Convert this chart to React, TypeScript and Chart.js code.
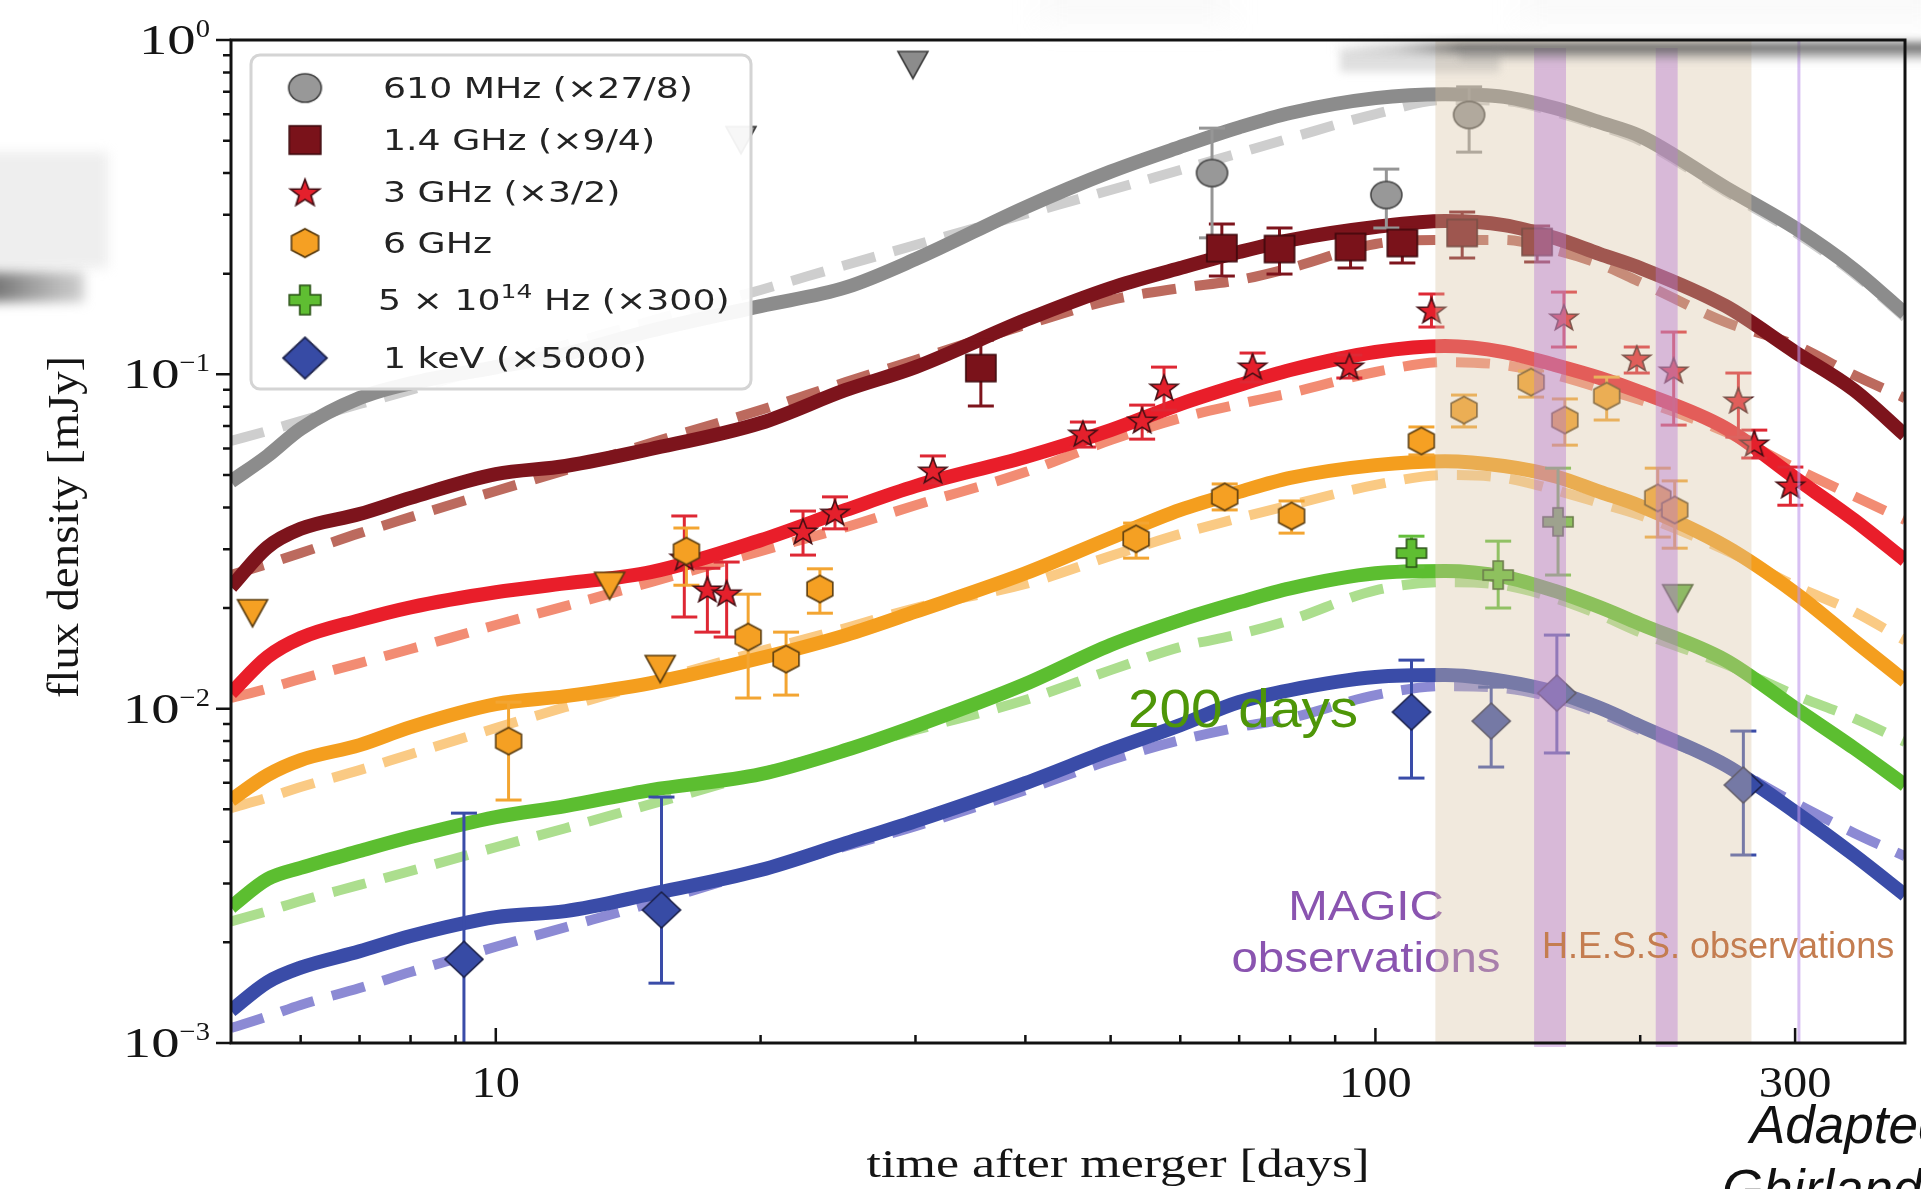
import React, { useEffect, useRef } from 'react';
import { Chart, registerables } from 'chart.js';

Chart.register(...registerables);

const CANVAS_W = 1921;
const CANVAS_H = 1189;

// ---------------------------------------------------------------------------
// Afterglow models on a common time grid (days after merger), flux in mJy,
// each band already multiplied by the factor given in the legend.
// Solid = structured jet, dashed = isotropic cocoon.
// ---------------------------------------------------------------------------
const MODEL_DAYS = [5, 5.5, 6, 7, 8, 10, 12, 15, 20, 25, 30, 40, 50, 60, 70, 80, 100, 120, 140, 160, 180, 200, 250, 300, 350, 400];

const JET_610MHZ = [0.0478, 0.057, 0.0687, 0.0849, 0.094, 0.105, 0.115, 0.135, 0.16, 0.182, 0.221, 0.316, 0.404, 0.479, 0.548, 0.605, 0.67, 0.688, 0.676, 0.626, 0.567, 0.516, 0.362, 0.274, 0.206, 0.152];
const COCOON_610MHZ = [0.0632, 0.0677, 0.0725, 0.0815, 0.0898, 0.1066, 0.1224, 0.1443, 0.1788, 0.2123, 0.2436, 0.3017, 0.3558, 0.4086, 0.4592, 0.509, 0.6006, 0.6614, 0.657, 0.609, 0.553, 0.5, 0.352, 0.266, 0.2, 0.148];

const JET_1P4GHZ = [0.0231, 0.0304, 0.0345, 0.0382, 0.0427, 0.0503, 0.0532, 0.0598, 0.0715, 0.0898, 0.1051, 0.1453, 0.1812, 0.208, 0.2322, 0.2522, 0.2759, 0.2874, 0.2796, 0.2557, 0.229, 0.208, 0.1601, 0.1166, 0.0898, 0.0658];
const COCOON_1P4GHZ = [0.0251, 0.0271, 0.0292, 0.0335, 0.0374, 0.0448, 0.0517, 0.0623, 0.0782, 0.0948, 0.1104, 0.1405, 0.1668, 0.1812, 0.1915, 0.208, 0.2454, 0.2522, 0.2522, 0.2353, 0.2138, 0.1888, 0.1433, 0.1224, 0.0995, 0.0849];

const JET_3GHZ = [0.01113, 0.01427, 0.01627, 0.0184, 0.0201, 0.0223, 0.0237, 0.0256, 0.0319, 0.0393, 0.0463, 0.0566, 0.0681, 0.0815, 0.0929, 0.103, 0.1166, 0.1215, 0.1166, 0.1066, 0.0975, 0.0885, 0.0691, 0.049, 0.0367, 0.0278];
const COCOON_3GHZ = [0.01076, 0.01148, 0.01227, 0.01369, 0.01508, 0.01779, 0.02027, 0.0239, 0.0296, 0.0349, 0.0406, 0.051, 0.0636, 0.074, 0.0815, 0.0879, 0.1016, 0.1088, 0.1066, 0.0995, 0.091, 0.0838, 0.0672, 0.0524, 0.0432, 0.0367];

const JET_6GHZ = [0.00533, 0.00633, 0.00702, 0.00778, 0.00881, 0.01032, 0.0109, 0.01193, 0.01417, 0.0166, 0.0195, 0.0254, 0.0324, 0.0393, 0.0445, 0.049, 0.0535, 0.055, 0.0532, 0.0496, 0.0445, 0.0404, 0.0306, 0.0222, 0.016, 0.01209];
const COCOON_6GHZ = [0.00504, 0.00542, 0.00583, 0.00655, 0.00731, 0.00875, 0.01011, 0.01201, 0.01487, 0.01742, 0.02, 0.0236, 0.0286, 0.0333, 0.0372, 0.0406, 0.0467, 0.05, 0.049, 0.0451, 0.0412, 0.0379, 0.0298, 0.0233, 0.0195, 0.016];

const JET_OPTICAL = [0.00255, 0.00309, 0.00334, 0.00375, 0.00413, 0.00474, 0.00511, 0.00571, 0.00637, 0.00752, 0.00887, 0.01185, 0.0155, 0.0184, 0.0208, 0.0229, 0.0254, 0.0258, 0.0248, 0.0225, 0.0201, 0.0179, 0.01397, 0.01004, 0.00762, 0.00591];
const COCOON_OPTICAL = [0.00231, 0.00248, 0.00266, 0.00297, 0.00327, 0.00385, 0.00439, 0.00518, 0.00642, 0.00752, 0.00863, 0.01061, 0.01304, 0.01529, 0.0167, 0.0184, 0.0226, 0.0239, 0.0234, 0.0214, 0.0191, 0.0169, 0.01359, 0.01098, 0.00937, 0.00795];

const JET_XRAY = [0.00125, 0.00152, 0.00168, 0.00188, 0.00209, 0.00238, 0.00248, 0.00279, 0.00329, 0.00396, 0.00461, 0.00599, 0.00752, 0.00893, 0.01047, 0.01137, 0.01243, 0.0126, 0.01209, 0.01121, 0.01004, 0.00887, 0.00678, 0.00491, 0.00365, 0.00277];
const COCOON_XRAY = [0.001108, 0.0012, 0.0013, 0.00146, 0.00163, 0.00194, 0.00222, 0.00262, 0.00329, 0.00388, 0.00445, 0.00571, 0.00702, 0.00805, 0.00881, 0.00937, 0.01098, 0.01168, 0.01152, 0.01076, 0.0097, 0.00863, 0.00678, 0.00522, 0.00425, 0.00362];

// ---------------------------------------------------------------------------
// Measurements (days, flux, lower / upper end of the error bar) and upper limits
// ---------------------------------------------------------------------------
const OBS_610MHZ_DAYS = [65.2, 102.9, 127.8];
const OBS_610MHZ_FLUX = [0.4, 0.344, 0.597];
const OBS_610MHZ_LO = [0.256, 0.274, 0.462];
const OBS_610MHZ_HI = [0.545, 0.411, 0.724];
const LIM_610MHZ_DAYS = [19.0, 29.8];
const LIM_610MHZ_FLUX = [0.502, 0.842];

const OBS_1P4GHZ_DAYS = [35.6, 66.9, 77.8, 93.7, 107.3, 125.5, 152.7];
const OBS_1P4GHZ_FLUX = [0.1044, 0.2386, 0.237, 0.2403, 0.247, 0.2647, 0.2487];
const OBS_1P4GHZ_LO = [0.0804, 0.1968, 0.1995, 0.208, 0.2153, 0.2228, 0.2168];
const OBS_1P4GHZ_HI = [0.1266, 0.2816, 0.274, 0.2665, 0.274, 0.3058, 0.2778];

const OBS_3GHZ_DAYS = [16.38, 17.4, 18.3, 22.35, 24.3, 31.4, 46.5, 54.3, 57.5, 72.5, 93.4, 115.8, 163.8, 198.2, 218.3, 258.6, 269.6, 296.3];
const OBS_3GHZ_FLUX = [0.0284, 0.0228, 0.0222, 0.034, 0.0387, 0.0517, 0.0667, 0.073, 0.0916, 0.1059, 0.1059, 0.1557, 0.1484, 0.1119, 0.103, 0.0838, 0.0623, 0.0467];
const OBS_3GHZ_LO = [0.0188, 0.01694, 0.01638, 0.0288, 0.0345, 0.0473, 0.0606, 0.064, 0.0782, 0.0948, 0.0975, 0.1385, 0.1207, 0.1009, 0.0705, 0.0649, 0.0562, 0.0406];
const OBS_3GHZ_HI = [0.0377, 0.0263, 0.02745, 0.039, 0.043, 0.057, 0.072, 0.0809, 0.1051, 0.1158, 0.1142, 0.1739, 0.1762, 0.1207, 0.1338, 0.1009, 0.0681, 0.0528];

const OBS_6GHZ_DAYS = [10.34, 16.47, 19.36, 21.38, 23.36, 53.45, 67.4, 80.3, 112.8, 126.1, 150.3, 164.2, 183.2, 209.4, 218.9];
const OBS_6GHZ_FLUX = [0.008, 0.0296, 0.01638, 0.01407, 0.0228, 0.0322, 0.043, 0.0377, 0.0632, 0.0782, 0.0948, 0.073, 0.0861, 0.0427, 0.0393];
const OBS_6GHZ_LO = [0.00533, 0.0234, 0.01076, 0.01098, 0.0193, 0.0282, 0.0393, 0.0335, 0.0574, 0.0696, 0.0855, 0.0614, 0.073, 0.0326, 0.0302];
const OBS_6GHZ_HI = [0.01046, 0.0347, 0.022, 0.01694, 0.0262, 0.0359, 0.047, 0.0418, 0.0696, 0.0867, 0.1023, 0.0844, 0.0981, 0.0524, 0.048];
const LIM_6GHZ_DAYS = [5.29, 13.47, 15.38];
const LIM_6GHZ_FLUX = [0.0193, 0.0233, 0.01314];

const OBS_OPTICAL_DAYS = [109.9, 137.9, 161.3];
const OBS_OPTICAL_FLUX = [0.0292, 0.0251, 0.0362];
const OBS_OPTICAL_LO = [0.0265, 0.02, 0.0251];
const OBS_OPTICAL_HI = [0.0328, 0.0317, 0.0524];
const LIM_OPTICAL_DAYS = [220.6];
const LIM_OPTICAL_FLUX = [0.0214];

const OBS_XRAY_DAYS = [9.2, 15.43, 109.9, 135.4, 160.8, 262];
const OBS_XRAY_FLUX = [0.00178, 0.0025, 0.00977, 0.00918, 0.01113, 0.00591];
const OBS_XRAY_LO = [0.0008, 0.00151, 0.0062, 0.00669, 0.00737, 0.00365];
const OBS_XRAY_HI = [0.00487, 0.00544, 0.01397, 0.0116, 0.0166, 0.00857];

// Very-high-energy observing windows (days)
const HESS_WINDOW = [117, 267.6];
const MAGIC_WINDOW_STARTS = [151.5, 208.3];
const MAGIC_WINDOW_ENDS = [164.7, 220.6];
const MAGIC_LATE_EPOCH = 303;

// Axes
const X_RANGE = [5, 400];
const Y_RANGE = [0.001, 1];
const X_MAJOR_TICKS = [10, 100, 300];
const X_MINOR_TICKS = [6, 7, 8, 9, 20, 30, 40, 50, 60, 70, 80, 90, 200];
const Y_DECADES = [0, -1, -2, -3];

const LEGEND_LABELS = ['610 MHz (×27/8)', '1.4 GHz (×9/4)', '3 GHz (×3/2)', '6 GHz', '5 × 10^{14} Hz (×300)', '1 keV (×5000)'];

// ---------------------------------------------------------------------------
// Styling
// ---------------------------------------------------------------------------
const COLORS = {
  gray: { solid: 'rgb(140,140,140)', dash: 'rgb(206,206,206)', bar: 'rgb(150,150,150)', fill: 'rgb(152,152,152)', edge: 'rgb(70,70,70)' },
  maroon: { solid: 'rgb(125,20,28)', dash: 'rgb(188,106,94)', bar: 'rgb(125,20,28)', fill: 'rgb(122,18,26)', edge: 'rgb(60,8,12)' },
  red: { solid: 'rgb(233,30,42)', dash: 'rgb(242,140,115)', bar: 'rgb(222,40,52)', fill: 'rgb(228,32,44)', edge: 'rgb(70,15,20)' },
  orange: { solid: 'rgb(244,158,30)', dash: 'rgb(250,202,132)', bar: 'rgb(243,165,50)', fill: 'rgb(245,160,35)', edge: 'rgb(90,60,15)' },
  green: { solid: 'rgb(92,190,48)', dash: 'rgb(172,222,142)', bar: 'rgb(100,190,60)', fill: 'rgb(95,190,50)', edge: 'rgb(40,80,20)' },
  blue: { solid: 'rgb(58,76,168)', dash: 'rgb(140,138,212)', bar: 'rgb(58,76,168)', fill: 'rgb(55,75,165)', edge: 'rgb(25,30,70)' },
};

type Path = (ctx: CanvasRenderingContext2D, cx: number, cy: number) => void;

function markerCanvas(w: number, h: number, path: Path, fill: string, edge: string): HTMLCanvasElement {
  const pad = 3;
  const c = document.createElement('canvas');
  c.width = Math.ceil(w + 2 * pad);
  c.height = Math.ceil(h + 2 * pad);
  const ctx = c.getContext('2d') as CanvasRenderingContext2D;
  ctx.beginPath();
  path(ctx, c.width / 2, c.height / 2);
  ctx.closePath();
  ctx.fillStyle = fill;
  ctx.fill();
  ctx.lineWidth = 1.6;
  ctx.lineJoin = 'miter';
  ctx.strokeStyle = edge;
  ctx.stroke();
  return c;
}

const ellipsePath = (rx: number, ry: number): Path => (ctx, cx, cy) => ctx.ellipse(cx, cy, rx, ry, 0, 0, Math.PI * 2);
const rectPath = (hw: number, hh: number): Path => (ctx, cx, cy) => ctx.rect(cx - hw, cy - hh, 2 * hw, 2 * hh);
const starPath = (ro: number, ri: number, sx: number): Path => (ctx, cx, cy) => {
  for (let k = 0; k < 10; k++) {
    const ang = -Math.PI / 2 + (k * Math.PI) / 5;
    const r = k % 2 ? ri : ro;
    const px = cx + r * Math.cos(ang) * sx;
    const py = cy + r * Math.sin(ang) + 1.5;
    if (k === 0) ctx.moveTo(px, py); else ctx.lineTo(px, py);
  }
};
const hexPath = (r: number, sx: number): Path => (ctx, cx, cy) => {
  for (let k = 0; k < 6; k++) {
    const ang = -Math.PI / 2 + (k * Math.PI) / 3;
    const px = cx + r * Math.cos(ang) * sx;
    const py = cy + r * Math.sin(ang);
    if (k === 0) ctx.moveTo(px, py); else ctx.lineTo(px, py);
  }
};
const plusPath = (hx: number, hy: number, t: number): Path => (ctx, cx, cy) => {
  const pts = [
    [-t, -hy], [t, -hy], [t, -t], [hx, -t], [hx, t], [t, t],
    [t, hy], [-t, hy], [-t, t], [-hx, t], [-hx, -t], [-t, -t],
  ];
  pts.forEach(([dx, dy], i) => (i === 0 ? ctx.moveTo(cx + dx, cy + dy) : ctx.lineTo(cx + dx, cy + dy)));
};
const diamondPath = (hw: number, hh: number): Path => (ctx, cx, cy) => {
  ctx.moveTo(cx, cy - hh);
  ctx.lineTo(cx + hw, cy);
  ctx.lineTo(cx, cy + hh);
  ctx.lineTo(cx - hw, cy);
};
const downTrianglePath = (hw: number, hh: number): Path => (ctx, cx, cy) => {
  ctx.moveTo(cx - hw, cy - hh);
  ctx.lineTo(cx + hw, cy - hh);
  ctx.lineTo(cx, cy + hh);
};

function buildMarkers() {
  return {
    circle: markerCanvas(31, 27, ellipsePath(15.5, 13.5), COLORS.gray.fill, COLORS.gray.edge),
    square: markerCanvas(30, 27, rectPath(15, 13.5), COLORS.maroon.fill, COLORS.maroon.edge),
    star: markerCanvas(28, 28, starPath(13.5, 5.6, 1.08), COLORS.red.fill, COLORS.red.edge),
    hexagon: markerCanvas(26, 27, hexPath(13.5, 1.1), COLORS.orange.fill, COLORS.orange.edge),
    plus: markerCanvas(30, 28, plusPath(15, 14, 5), COLORS.green.fill, COLORS.green.edge),
    diamond: markerCanvas(38, 36, diamondPath(19, 18), COLORS.blue.fill, COLORS.blue.edge),
    triGray: markerCanvas(30, 27, downTrianglePath(15, 13.5), 'rgb(140,140,140)', 'rgb(60,60,60)'),
    triOrange: markerCanvas(30, 27, downTrianglePath(15, 13.5), COLORS.orange.fill, COLORS.orange.edge),
    triGreen: markerCanvas(30, 27, downTrianglePath(15, 13.5), 'rgb(95,180,60)', 'rgb(40,70,25)'),
  };
}

type Markers = ReturnType<typeof buildMarkers>;

function modelCurve(values: number[], color: string, dashed: boolean) {
  return {
    type: 'line' as const,
    data: MODEL_DAYS.map((d, i) => ({ x: d, y: values[i] })),
    borderColor: color,
    borderWidth: dashed ? 10 : 14,
    borderDash: dashed ? [34, 19] : [],
    borderCapStyle: 'butt' as const,
    borderJoinStyle: 'round' as const,
    pointRadius: 0,
    cubicInterpolationMode: 'monotone' as const,
    fill: false,
    clip: 0,
    order: dashed ? 40 : 30,
  };
}

function errorBars(days: number[], lo: number[], hi: number[], color: string) {
  return days.map((d, i) => ({
    type: 'line' as const,
    data: [{ x: d, y: lo[i] }, { x: d, y: hi[i] }],
    borderColor: color,
    borderWidth: 3,
    pointStyle: 'line' as const,
    pointRadius: 13,
    pointBorderWidth: 3,
    pointBorderColor: color,
    fill: false,
    clip: 0,
    order: 20,
  }));
}

function markerSet(days: number[], flux: number[], style: HTMLCanvasElement) {
  return {
    type: 'line' as const,
    data: days.map((d, i) => ({ x: d, y: flux[i] })),
    showLine: false,
    pointStyle: style,
    pointRadius: 15,
    order: 10,
  };
}

function buildDatasets(m: Markers) {
  return [
    modelCurve(COCOON_610MHZ, COLORS.gray.dash, true),
    modelCurve(COCOON_1P4GHZ, COLORS.maroon.dash, true),
    modelCurve(COCOON_3GHZ, COLORS.red.dash, true),
    modelCurve(COCOON_6GHZ, COLORS.orange.dash, true),
    modelCurve(COCOON_OPTICAL, COLORS.green.dash, true),
    modelCurve(COCOON_XRAY, COLORS.blue.dash, true),
    modelCurve(JET_610MHZ, COLORS.gray.solid, false),
    modelCurve(JET_1P4GHZ, COLORS.maroon.solid, false),
    modelCurve(JET_3GHZ, COLORS.red.solid, false),
    modelCurve(JET_6GHZ, COLORS.orange.solid, false),
    modelCurve(JET_OPTICAL, COLORS.green.solid, false),
    modelCurve(JET_XRAY, COLORS.blue.solid, false),
    ...errorBars(OBS_610MHZ_DAYS, OBS_610MHZ_LO, OBS_610MHZ_HI, COLORS.gray.bar),
    ...errorBars(OBS_1P4GHZ_DAYS, OBS_1P4GHZ_LO, OBS_1P4GHZ_HI, COLORS.maroon.bar),
    ...errorBars(OBS_6GHZ_DAYS, OBS_6GHZ_LO, OBS_6GHZ_HI, COLORS.orange.bar),
    ...errorBars(OBS_3GHZ_DAYS, OBS_3GHZ_LO, OBS_3GHZ_HI, COLORS.red.bar),
    ...errorBars(OBS_OPTICAL_DAYS, OBS_OPTICAL_LO, OBS_OPTICAL_HI, COLORS.green.bar),
    ...errorBars(OBS_XRAY_DAYS, OBS_XRAY_LO, OBS_XRAY_HI, COLORS.blue.bar),
    markerSet(OBS_610MHZ_DAYS, OBS_610MHZ_FLUX, m.circle),
    markerSet(LIM_610MHZ_DAYS, LIM_610MHZ_FLUX, m.triGray),
    markerSet(OBS_1P4GHZ_DAYS, OBS_1P4GHZ_FLUX, m.square),
    markerSet(OBS_6GHZ_DAYS, OBS_6GHZ_FLUX, m.hexagon),
    markerSet(LIM_6GHZ_DAYS, LIM_6GHZ_FLUX, m.triOrange),
    markerSet(OBS_3GHZ_DAYS, OBS_3GHZ_FLUX, m.star),
    markerSet(OBS_OPTICAL_DAYS, OBS_OPTICAL_FLUX, m.plus),
    markerSet(LIM_OPTICAL_DAYS, LIM_OPTICAL_FLUX, m.triGreen),
    markerSet(OBS_XRAY_DAYS, OBS_XRAY_FLUX, m.diamond),
  ];
}

// ---------------------------------------------------------------------------
// Text helpers
// ---------------------------------------------------------------------------
function drawText(
  ctx: CanvasRenderingContext2D,
  text: string,
  x: number,
  y: number,
  font: string,
  color: string,
  sx = 1,
  align: 'left' | 'center' | 'right' = 'left',
) {
  ctx.save();
  ctx.font = font;
  ctx.fillStyle = color;
  ctx.textBaseline = 'alphabetic';
  ctx.textAlign = 'left';
  const w = ctx.measureText(text).width * sx;
  let left = x;
  if (align === 'center') left = x - w / 2;
  else if (align === 'right') left = x - w;
  ctx.translate(left, y);
  ctx.scale(sx, 1);
  ctx.fillText(text, 0, 0);
  ctx.restore();
  return w;
}

// label text with an optional ^{...} superscript
function drawRichLabel(ctx: CanvasRenderingContext2D, label: string, x: number, y: number, size: number, sx: number, color: string) {
  const parts = label.split(/\^\{([^}]*)\}/);
  let cx = x;
  parts.forEach((p, i) => {
    if (!p) return;
    if (i % 2 === 1) {
      cx += drawText(ctx, p, cx, y - size * 0.42, `${Math.round(size * 0.68)}px "DejaVu Sans"`, color, sx);
    } else {
      cx += drawText(ctx, p, cx, y, `${size}px "DejaVu Sans"`, color, sx);
    }
  });
}

function drawDecade(ctx: CanvasRenderingContext2D, exp: number, xRight: number, yc: number) {
  const sup = exp === 0 ? '0' : `−${Math.abs(exp)}`;
  ctx.save();
  ctx.font = '26px "Liberation Serif"';
  const supW = ctx.measureText(sup).width * 1.1;
  ctx.font = '42px "Liberation Serif"';
  const baseW = ctx.measureText('10').width * 1.35;
  ctx.restore();
  const left = xRight - supW - baseW;
  drawText(ctx, '10', left, yc + 14, '42px "Liberation Serif"', '#151515', 1.35);
  drawText(ctx, sup, left + baseW, yc - 3, '26px "Liberation Serif"', '#151515', 1.1);
}

// ---------------------------------------------------------------------------
// Plugins
// ---------------------------------------------------------------------------
const windowsPlugin = {
  id: 'observingWindows',
  afterDatasetsDraw(chart: any) {
    const { ctx, chartArea: a, scales } = chart;
    const xs = scales.x;

    drawText(ctx, 'MAGIC', 1366, 920, '42px "Liberation Sans"', 'rgb(138,84,176)', 1.13, 'center');
    drawText(ctx, 'observations', 1366, 972, '42px "Liberation Sans"', 'rgb(138,84,176)', 1.13, 'center');

    ctx.save();
    ctx.beginPath();
    ctx.rect(a.left, a.top, a.right - a.left, a.bottom - a.top + 4);
    ctx.clip();
    const h0 = xs.getPixelForValue(HESS_WINDOW[0]);
    const h1 = xs.getPixelForValue(HESS_WINDOW[1]);
    ctx.fillStyle = 'rgba(218,196,166,0.38)';
    ctx.fillRect(h0, a.top, h1 - h0, a.bottom - a.top);
    ctx.fillStyle = 'rgba(180,120,210,0.42)';
    MAGIC_WINDOW_STARTS.forEach((d0, i) => {
      const p0 = xs.getPixelForValue(d0);
      const p1 = xs.getPixelForValue(MAGIC_WINDOW_ENDS[i]);
      ctx.fillRect(p0, a.top + 8, p1 - p0, a.bottom - a.top - 4);
    });
    const lx = xs.getPixelForValue(MAGIC_LATE_EPOCH);
    ctx.fillStyle = 'rgba(190,150,235,0.6)';
    ctx.fillRect(lx - 1.5, a.top, 3, a.bottom - a.top);
    ctx.restore();

    drawText(ctx, 'H.E.S.S. observations', 1542, 958, '36px "Liberation Sans"', 'rgb(196,125,80)', 1.0);
    drawText(ctx, '200 days', 1128, 727, '54px "Liberation Sans"', 'rgb(78,150,8)', 1.05);
  },
};

// soft grey print shading around the figure edges
function drawShading(ctx: CanvasRenderingContext2D) {
  ctx.save();
  ctx.filter = 'blur(6px)';
  ctx.fillStyle = 'rgba(205,205,205,0.35)';
  ctx.fillRect(-20, 152, 128, 116);
  const g = ctx.createLinearGradient(0, 0, 90, 0);
  g.addColorStop(0, 'rgba(115,115,115,0.95)');
  g.addColorStop(1, 'rgba(175,175,175,0.55)');
  ctx.fillStyle = g;
  ctx.fillRect(-20, 272, 104, 30);
  ctx.restore();

  ctx.save();
  ctx.filter = 'blur(14px)';
  ctx.fillStyle = 'rgba(215,215,215,0.14)';
  ctx.fillRect(1040, -20, 190, 44);
  ctx.fillRect(1520, -20, 420, 44);
  ctx.restore();

  ctx.save();
  ctx.filter = 'blur(4px)';
  const g2 = ctx.createLinearGradient(1330, 0, 1460, 0);
  g2.addColorStop(0, 'rgba(140,140,140,0)');
  g2.addColorStop(0.5, 'rgba(140,140,140,0.35)');
  g2.addColorStop(1, 'rgba(95,95,95,0.85)');
  ctx.fillStyle = g2;
  ctx.fillRect(1330, 42, 600, 12);
  ctx.fillStyle = 'rgba(150,150,150,0.3)';
  ctx.fillRect(1340, 50, 160, 22);
  ctx.fillStyle = 'rgba(120,120,120,0.3)';
  ctx.fillRect(1460, 52, 470, 8);
  ctx.restore();
}

function drawLegend(ctx: CanvasRenderingContext2D, m: Markers) {
  const x0 = 251, y0 = 55, x1 = 751, y1 = 389;
  ctx.save();
  ctx.beginPath();
  ctx.roundRect(x0, y0, x1 - x0, y1 - y0, 9);
  ctx.fillStyle = 'rgba(255,255,255,0.93)';
  ctx.fill();
  ctx.lineWidth = 3;
  ctx.strokeStyle = 'rgb(212,212,212)';
  ctx.stroke();
  ctx.restore();

  const icons = [m.circle, m.square, m.star, m.hexagon, m.plus, m.diamond];
  const rows = [88, 140, 192, 243, 300, 358];
  const textX = [383, 383, 383, 383, 378, 383];
  icons.forEach((icon, i) => {
    const s = i === 5 ? 1.15 : 1.05;
    const w = icon.width * s, h = icon.height * s;
    ctx.drawImage(icon, 305 - w / 2, rows[i] - h / 2, w, h);
    drawRichLabel(ctx, LEGEND_LABELS[i], textX[i], rows[i] + 10, 29, 1.25, 'rgb(35,35,35)');
  });
}

function drawFrame(chart: any) {
  const { ctx, chartArea: a, scales } = chart;
  const xs = scales.x, ys = scales.y;
  ctx.save();
  ctx.strokeStyle = '#121212';
  ctx.lineWidth = 3;
  ctx.strokeRect(a.left, a.top, a.right - a.left, a.bottom - a.top);

  ctx.lineWidth = 2.5;
  ctx.beginPath();
  Y_DECADES.forEach((e) => {
    const py = ys.getPixelForValue(Math.pow(10, e));
    ctx.moveTo(a.left - 15, py);
    ctx.lineTo(a.left, py);
    if (e < 0) {
      for (let k = 2; k <= 9; k++) {
        const pm = ys.getPixelForValue(k * Math.pow(10, e));
        ctx.moveTo(a.left - 8, pm);
        ctx.lineTo(a.left, pm);
      }
    }
  });
  X_MAJOR_TICKS.forEach((v) => {
    const px = xs.getPixelForValue(v);
    ctx.moveTo(px, a.bottom);
    ctx.lineTo(px, a.bottom - 15);
  });
  X_MINOR_TICKS.forEach((v) => {
    const px = xs.getPixelForValue(v);
    ctx.moveTo(px, a.bottom);
    ctx.lineTo(px, a.bottom - 8);
  });
  ctx.stroke();
  ctx.restore();

  Y_DECADES.forEach((e) => drawDecade(ctx, e, 210, ys.getPixelForValue(Math.pow(10, e))));
  X_MAJOR_TICKS.forEach((v) => {
    drawText(ctx, String(v), xs.getPixelForValue(v), 1097, '44px "Liberation Serif"', '#151515', 1.1, 'center');
  });

  drawText(ctx, 'time after merger [days]', 1118, 1177, '40px "Liberation Serif"', '#151515', 1.3, 'center');
  ctx.save();
  ctx.translate(78, 527);
  ctx.rotate(-Math.PI / 2);
  drawText(ctx, 'flux density [mJy]', 0, 0, '44px "Liberation Serif"', '#151515', 1.06, 'center');
  ctx.restore();

  drawText(ctx, 'Adapted from', 1750, 1143, 'italic 53px "Liberation Sans"', '#111', 1.0);
  drawText(ctx, 'Ghirlanda et al. (2019)', 1722, 1207, 'italic 53px "Liberation Sans"', '#111', 1.0);
}

function decorPlugin(m: Markers) {
  return {
    id: 'figureDecor',
    afterDraw(chart: any) {
      const ctx = chart.ctx as CanvasRenderingContext2D;
      drawShading(ctx);
      drawLegend(ctx, m);
      drawFrame(chart);
    },
  };
}

// ---------------------------------------------------------------------------
export default function App() {
  const canvasRef = useRef<HTMLCanvasElement>(null);

  useEffect(() => {
    const canvas = canvasRef.current;
    if (!canvas) return;
    const markers = buildMarkers();
    const chart = new Chart(canvas, {
      type: 'line',
      data: { datasets: buildDatasets(markers) as any },
      options: {
        responsive: false,
        animation: false,
        events: [],
        layout: { padding: { left: 231, top: 40, right: CANVAS_W - 1915, bottom: CANVAS_H - 1043 } },
        scales: {
          x: { type: 'logarithmic', min: X_RANGE[0], max: X_RANGE[1], display: false },
          y: { type: 'logarithmic', min: Y_RANGE[0], max: Y_RANGE[1], display: false },
        },
        plugins: {
          legend: { display: false },
          tooltip: { enabled: false },
        },
      },
      plugins: [windowsPlugin, decorPlugin(markers)],
    });
    return () => chart.destroy();
  }, []);

  return (
    <div style={{ position: 'fixed', left: 0, top: 0, width: CANVAS_W, height: CANVAS_H, background: '#fff', overflow: 'hidden' }}>
      <canvas ref={canvasRef} width={CANVAS_W} height={CANVAS_H} style={{ display: 'block' }} />
    </div>
  );
}
